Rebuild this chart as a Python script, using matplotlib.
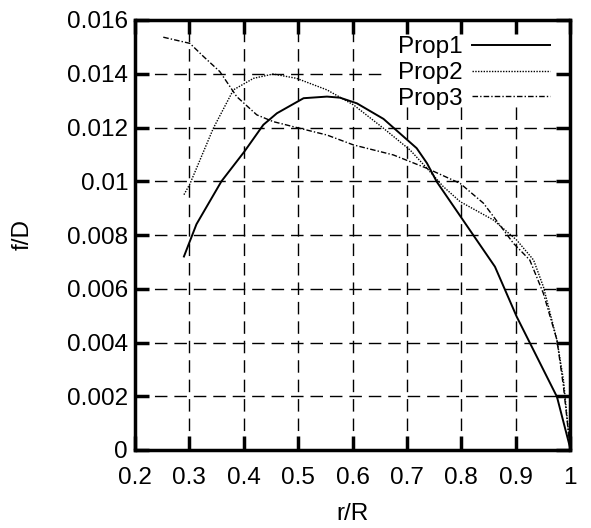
import matplotlib
matplotlib.use("Agg")
import matplotlib.pyplot as plt
from matplotlib.patches import Rectangle

# data
prop1_x = [0.29, 0.313, 0.359, 0.401, 0.436, 0.461, 0.51, 0.553, 0.577, 0.608, 0.657,
           0.718, 0.737, 0.755, 0.822, 0.862, 0.902, 0.976, 1.0]
prop1_y = [0.0072, 0.0084, 0.0100, 0.0111, 0.0121, 0.01253, 0.01309, 0.01315, 0.01311,
           0.0129, 0.01232, 0.01123, 0.01067, 0.00998, 0.0080, 0.00682, 0.00496, 0.00198, 0.0001]

prop2_x = [0.29, 0.301, 0.344, 0.381, 0.418, 0.454, 0.497, 0.553, 0.602, 0.657, 0.706,
           0.737, 0.767, 0.798, 0.859, 0.902, 0.933, 0.951, 0.976, 0.988, 1.0]
prop2_y = [0.0095, 0.0099, 0.01197, 0.0134, 0.01383, 0.01399, 0.01383, 0.0134, 0.01284,
           0.01197, 0.01116, 0.01048, 0.0098, 0.00924, 0.00856, 0.00781, 0.00707, 0.00608,
           0.00409, 0.0026, 0.0001]

prop3_x = [0.252, 0.301, 0.326, 0.356, 0.387, 0.424, 0.454, 0.503, 0.553, 0.602, 0.675,
           0.737, 0.798, 0.841, 0.896, 0.926, 0.951, 0.976, 0.988, 1.0]
prop3_y = [0.01536, 0.01513, 0.01464, 0.01408, 0.01315, 0.01247, 0.01222, 0.01197, 0.01172,
           0.01135, 0.01098, 0.01048, 0.00992, 0.00918, 0.00769, 0.00707, 0.00583, 0.00409,
           0.00236, 0.0001]

x_ticks = [0.2, 0.3, 0.4, 0.5, 0.6, 0.7, 0.8, 0.9, 1.0]
x_labels = ["0.2", "0.3", "0.4", "0.5", "0.6", "0.7", "0.8", "0.9", "1"]
y_ticks = [0, 0.002, 0.004, 0.006, 0.008, 0.01, 0.012, 0.014, 0.016]
y_labels = ["0", "0.002", "0.004", "0.006", "0.008", "0.01", "0.012", "0.014", "0.016"]

plt.rcParams["font.family"] = ["Liberation Sans", "DejaVu Sans"]
fs = 17.5

fig = plt.figure(figsize=(5.91, 5.28), dpi=100)
ax = fig.add_axes([135 / 591, 1 - 450 / 528, 435 / 591, 430 / 528])

# dashed grid drawn by hand so the key box can sit over it but under the ticks
grid_kw = dict(color="black", lw=1.0, ls=(0, (9, 5)), zorder=0.8)
ax.hlines(y_ticks[1:-1], x_ticks[0], x_ticks[-1], **grid_kw)
ax.vlines(x_ticks[1:-1], y_ticks[0], y_ticks[-1], **grid_kw)
ax.add_patch(Rectangle((0.574, 0.802), 0.426, 0.198, transform=ax.transAxes,
                       facecolor="white", edgecolor="none", zorder=1.0))

ax.plot(prop1_x, prop1_y, color="black", lw=1.4, ls="-", label="Prop1", zorder=3)
ax.plot(prop2_x, prop2_y, color="black", lw=1.0, ls=(0, (1, 1)), label="Prop2", zorder=3)
ax.plot(prop3_x, prop3_y, color="black", lw=1.0, ls=(0, (4, 1.5, 1, 1.5)), label="Prop3", zorder=3)

ax.set_xlim(0.2, 1.0)
ax.set_ylim(0, 0.016)
ax.set_xticks(x_ticks)
ax.set_xticklabels(x_labels)
ax.set_yticks(y_ticks)
ax.set_yticklabels(y_labels)
ax.tick_params(direction="in", length=10, width=2.5, labelsize=fs, top=True, right=True)
ax.tick_params(axis="x", pad=12)
ax.tick_params(axis="y", pad=5)
for sp in ax.spines.values():
    sp.set_linewidth(2.5)

ax.set_xlabel("r/R", fontsize=fs, labelpad=10)
ax.set_ylabel("f/D", fontsize=fs, labelpad=24)

leg = ax.legend(loc="upper right", frameon=False, markerfirst=False, fontsize=fs,
                handlelength=3.2, handletextpad=0.38, labelspacing=0.15,
                borderpad=0.0, borderaxespad=0.0, bbox_to_anchor=(0.954, 0.962))
leg.set_zorder(5)

fig.savefig("out.png", dpi=100, facecolor="white")
